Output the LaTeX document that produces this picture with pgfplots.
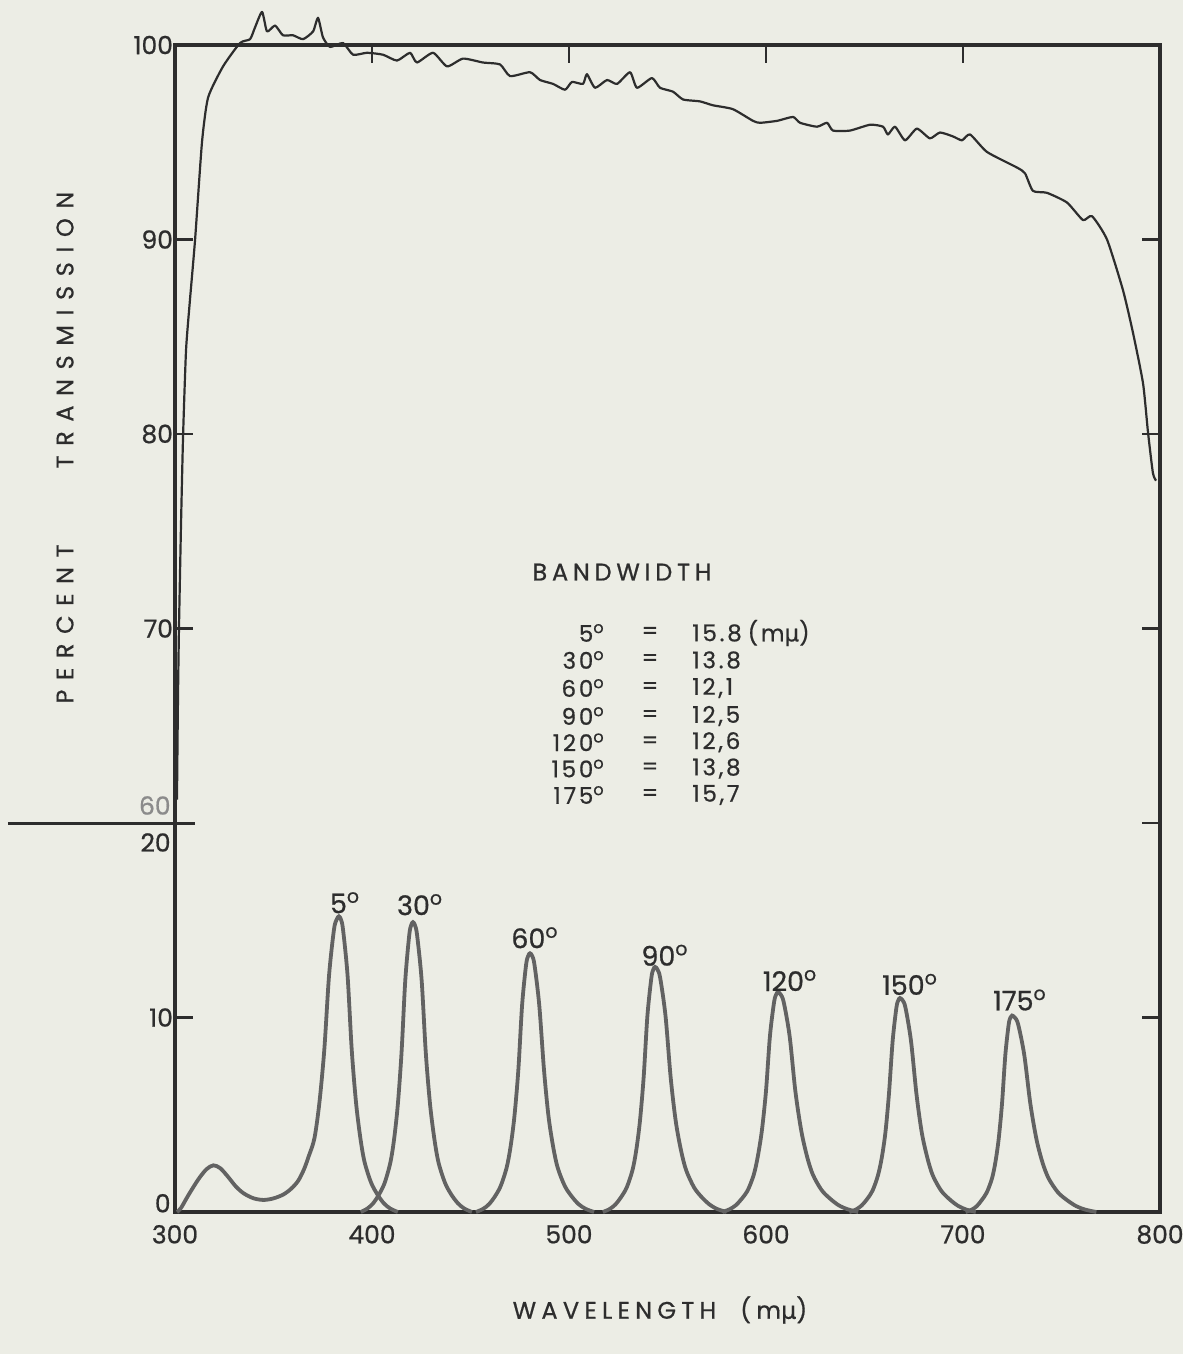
\documentclass[border=0pt]{standalone}
\usepackage{fontspec}
\setmainfont{Poppins}[FakeBold=0.7]
\newfontfamily\grk{DejaVu Sans}[FakeBold=0.3]
\usepackage{pgfplots}
\usepackage{pgfplotstable}
\pgfplotsset{compat=1.18}

\definecolor{paper}{RGB}{236,237,229}
\definecolor{ink}{RGB}{45,45,45}
\definecolor{peakc}{RGB}{98,98,98}
\newcommand{\dg}{\textsuperscript{o}}

% upper curve, percent transmission (plotted 40 units down, broken axis)
\pgfplotstableread{
lam T
301.0 61.2
301.5 66.3
302.0 69.9
303.0 75.1
304.1 79.9
305.6 84.3
307.6 86.9
310.2 90.0
313.7 95.0
316.8 97.3
324.4 98.9
333.0 100.1
338.1 100.3
340.6 100.9
344.2 101.7
346.7 100.7
350.8 101.0
354.8 100.5
359.9 100.5
365.0 100.3
370.1 100.7
372.6 101.4
375.1 100.4
378.7 99.9
385.3 100.1
390.4 99.5
397.5 99.6
405.6 99.5
412.7 99.2
419.3 99.6
422.8 99.1
431.0 99.6
438.1 98.9
446.2 99.3
456.3 99.1
465.0 99.0
470.1 98.4
480.2 98.6
485.3 98.2
491.9 98.0
498.0 97.7
501.5 98.1
507.1 98.0
509.1 98.5
513.2 97.8
519.3 98.2
524.4 98.0
531.0 98.6
534.5 97.8
542.1 98.3
546.2 97.8
552.8 97.6
557.9 97.2
566.5 97.1
573.1 96.9
583.2 96.7
593.4 96.1
597.0 96.0
605.6 96.1
613.7 96.3
617.3 96.0
625.9 95.8
631.0 96.0
634.0 95.6
642.6 95.6
652.8 95.9
659.4 95.8
661.9 95.4
665.5 95.8
670.6 95.1
676.6 95.7
683.2 95.2
688.3 95.5
694.9 95.3
699.5 95.1
703.6 95.4
712.2 94.5
727.4 93.7
731.5 93.4
735.5 92.5
742.6 92.4
752.8 91.9
760.9 91.0
765.5 91.2
773.1 90.0
781.2 87.4
786.3 85.2
791.4 82.6
793.9 80.1
796.4 78.0
798.0 77.6
}\toptable

\pgfplotstableread{
lam T
301 0
303 0.2
307 0.9
312 1.7
316 2.2
319.5 2.4
323 2.25
327 1.8
331 1.3
335 0.95
340 0.7
345 0.62
350 0.7
355 0.9
359 1.2
362.5 1.6
365.5 2.2
368 2.9
370.8 3.80
373.3 5.62
375.8 8.36
378.2 12.16
380.7 14.52
382.1 15.05
383.2 15.2
384.2 15.05
385.3 14.52
387.6 12.16
389.7 8.36
391.9 5.62
394.1 3.80
396.2 2.58
399.5 1.52
402.7 0.91
405.9 0.46
409.2 0.18
413.1 0
}\pA

\pgfplotstableread{
lam T
394.3 0
397.7 0.18
400.6 0.45
403.5 0.89
406.4 1.49
409.3 2.53
411.2 3.73
413.1 5.51
415.0 8.20
416.9 11.92
418.9 14.23
419.9 14.75
420.8 14.9
421.8 14.75
422.9 14.23
425.2 11.92
427.3 8.20
429.5 5.51
431.7 3.73
433.8 2.53
437.1 1.49
440.3 0.89
443.6 0.45
446.8 0.18
450.7 0
}\pB

\pgfplotstableread{
lam T
452.8 0
456.4 0.16
459.4 0.40
462.4 0.80
465.3 1.33
468.3 2.26
470.3 3.33
472.3 4.92
474.3 7.32
476.2 10.64
478.2 12.70
479.3 13.17
480.2 13.3
481.3 13.17
482.5 12.70
484.9 10.64
487.3 7.32
489.6 4.92
492.0 3.33
494.3 2.26
497.9 1.33
501.4 0.80
504.9 0.40
508.5 0.16
512.7 0
}\pC

\pgfplotstableread{
lam T
517.2 0
520.6 0.15
523.5 0.38
526.4 0.76
529.3 1.26
532.2 2.14
534.1 3.15
536.0 4.66
537.9 6.93
539.8 10.08
541.8 12.03
542.8 12.47
543.7 12.6
544.9 12.47
546.3 12.03
549.0 10.08
551.6 6.93
554.2 4.66
556.9 3.15
559.5 2.14
563.5 1.26
567.4 0.76
571.4 0.38
575.3 0.15
580.0 0
}\pD

\pgfplotstableread{
lam T
577.9 0
581.5 0.14
584.6 0.34
587.7 0.68
590.8 1.13
593.8 1.92
595.8 2.83
597.9 4.18
600.0 6.22
602.0 9.04
604.1 10.79
605.2 11.19
606.1 11.3
607.4 11.19
609.0 10.79
612.0 9.04
614.9 6.22
617.9 4.18
620.9 2.83
623.8 1.92
628.2 1.13
632.6 0.68
637.0 0.34
641.5 0.14
646.8 0
}\pE

\pgfplotstableread{
lam T
642.3 0
645.7 0.13
648.5 0.33
651.3 0.66
654.1 1.10
656.8 1.87
658.7 2.75
660.6 4.07
662.4 6.05
664.3 8.8
666.2 10.51
667.2 10.89
668.0 11.0
669.3 10.89
670.8 10.51
673.6 8.8
676.4 6.05
679.1 4.07
682.0 2.75
684.7 1.87
688.9 1.10
693.1 0.66
697.3 0.33
701.5 0.13
706.5 0
}\pF

\pgfplotstableread{
lam T
701.3 0
704.4 0.12
707.0 0.30
709.5 0.61
712.1 1.01
714.7 1.72
716.4 2.53
718.1 3.74
719.8 5.56
721.5 8.08
723.2 9.65
724.1 10.0
724.9 10.1
726.3 10.0
728.0 9.65
731.1 8.08
734.2 5.56
737.3 3.74
740.4 2.53
743.5 1.72
748.2 1.01
752.8 0.61
757.5 0.30
762.1 0.12
767.7 0
}\pG

\begin{document}
\begin{tikzpicture}
\fill[paper] (-87.5pt,-71pt) rectangle (504pt,606pt);
\begin{axis}[
    scale only axis,
    width=492.5pt, height=583.5pt,
    xmin=300, xmax=800, ymin=0, ymax=60,
    clip=false,
    axis line style={ink, line width=2.2pt},
    xtick={300,400,500,600,700,800},
    ytick={0,10,20,30,40,50,60},
    yticklabels={,10,,70,80,90,100},
    xtick pos=upper, xticklabel pos=lower,
    ytick pos=both, yticklabel pos=left,
    tick align=inside,
    major tick length=9pt,
    tick style={ink, line width=1.4pt},
    tick label style={font=\fontsize{12.5}{14}\selectfont, text=ink},
    xticklabel style={yshift=-3pt},
    yticklabel style={xshift=2.5pt},
    /pgf/number format/assume math mode=true,
    peak/.style={peakc, line width=1.9pt, smooth, tension=0.5},
]
\addplot[ink, line width=1.1pt, smooth, tension=0.35, line join=round]
    table[x=lam, y expr=\thisrow{T}-40] {\toptable};
\addplot[peak] table[x=lam, y=T] {\pA};
\addplot[peak] table[x=lam, y=T] {\pB};
\addplot[peak] table[x=lam, y=T] {\pC};
\addplot[peak] table[x=lam, y=T] {\pD};
\addplot[peak] table[x=lam, y=T] {\pE};
\addplot[peak] table[x=lam, y=T] {\pF};
\addplot[peak] table[x=lam, y=T] {\pG};

% broken-axis mark and its two labels, the "0" set a little high
\draw[ink, line width=1.5pt] ([xshift=-83.5pt]axis cs:300,20) -- ([xshift=10pt]axis cs:300,20);
\node[anchor=east, text=ink!55, font=\fontsize{12.5}{14}\selectfont, inner sep=1pt] at ([xshift=-1pt]axis cs:300,20.9) {60};
\node[anchor=east, text=ink, font=\fontsize{12.5}{14}\selectfont, inner sep=1pt] at ([xshift=-1pt]axis cs:300,19.0) {20};
\node[anchor=east, text=ink, font=\fontsize{12.5}{14}\selectfont, inner sep=1pt] at ([xshift=-1pt]axis cs:300,0.45) {0};

% peak labels
\begin{scope}[every node/.style={font=\fontsize{13.5}{15}\selectfont, text=ink, inner sep=0pt}]
\node at (axis cs:386.3,15.9) {5\dg};
\node at (axis cs:424.4,15.8) {30\dg};
\node at (axis cs:482.7,14.1) {60\dg};
\node at (axis cs:548.7,13.2) {90\dg};
\node at (axis cs:612.2,11.9) {120\dg};
\node at (axis cs:673.1,11.7) {150\dg};
\node at (axis cs:728.9,10.9) {175\dg};
\end{scope}

% bandwidth table
\begin{scope}[every node/.style={font=\fontsize{11.5}{13}\selectfont\addfontfeature{LetterSpace=12}, text=ink, inner sep=0pt}]
\node[font=\fontsize{12}{13}\selectfont\addfontfeature{LetterSpace=20}] at (axis cs:526.9,32.9) {BANDWIDTH};
\node[anchor=east] at (axis cs:518.3,29.77) {5\dg};
\node[anchor=east] at (axis cs:518.3,28.38) {30\dg};
\node[anchor=east] at (axis cs:518.3,26.94) {60\dg};
\node[anchor=east] at (axis cs:518.3,25.50) {90\dg};
\node[anchor=east] at (axis cs:518.3,24.15) {120\dg};
\node[anchor=east] at (axis cs:518.3,22.80) {150\dg};
\node[anchor=east] at (axis cs:518.3,21.44) {175\dg};
\node at (axis cs:541.1,29.77) {=};
\node at (axis cs:541.1,28.38) {=};
\node at (axis cs:541.1,26.94) {=};
\node at (axis cs:541.1,25.50) {=};
\node at (axis cs:541.1,24.15) {=};
\node at (axis cs:541.1,22.80) {=};
\node at (axis cs:541.1,21.44) {=};
\node[anchor=west] at (axis cs:562.4,29.77) {15.8};
\node[anchor=west] at (axis cs:562.4,28.38) {13.8};
\node[anchor=west] at (axis cs:562.4,26.94) {12,1};
\node[anchor=west] at (axis cs:562.4,25.50) {12,5};
\node[anchor=west] at (axis cs:562.4,24.15) {12,6};
\node[anchor=west] at (axis cs:562.4,22.80) {13,8};
\node[anchor=west] at (axis cs:562.4,21.44) {15,7};
\node[anchor=west] at (axis cs:590.5,29.77) {(m{\grk μ})};
\end{scope}

% axis titles
\node[font=\fontsize{12}{13}\selectfont\addfontfeature{LetterSpace=22}, text=ink]
    at (axis cs:546.2,-5.04) {WAVELENGTH\hspace{12pt}(m{\grk μ})};
\node[rotate=90, font=\fontsize{12}{13}\selectfont\addfontfeature{LetterSpace=40}, text=ink]
    at ([xshift=-55pt]axis cs:300,39.3) {PERCENT\hspace{38pt}TRANSMISSION};
\end{axis}
\end{tikzpicture}
\end{document}
